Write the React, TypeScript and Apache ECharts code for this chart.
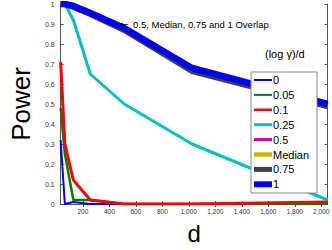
import React, { useEffect, useRef } from "react";
import * as echarts from "echarts";

const dValues = [32, 64, 128, 256, 512, 1024, 2048];
const seriesNames = ["0", "0.05", "0.1", "0.25", "0.5", "Median", "0.75", "1"];
const s0 = [0.32, 0.0, 0.01, 0.0, 0.0, 0.0, 0.0];
const s005 = [0.48, 0.25, 0.02, 0.02, 0.0, 0.0, 0.0];
const s01 = [0.71, 0.3, 0.12, 0.02, 0.0, 0.0, 0.01];
const s025 = [1.0, 1.0, 0.92, 0.65, 0.5, 0.3, 0.02];
const s05 = [1.0, 1.0, 0.985, 0.95, 0.87, 0.67, 0.485];
const sMedian = [1.0, 1.0, 0.995, 0.96, 0.875, 0.675, 0.49];
const s075 = [1.0, 1.0, 0.985, 0.95, 0.87, 0.665, 0.49];
const s1 = [1.0, 1.0, 0.99, 0.955, 0.88, 0.68, 0.5];
const xTicks = [200, 400, 600, 800, 1000, 1200, 1400, 1600, 1800, 2000];

const allValues = [s0, s005, s01, s025, s05, sMedian, s075, s1];
const colors = ["#0000ff", "#008000", "#ff0000", "#00bfbf", "#bf00bf", "#bfbf00", "#404040", "#0000ff"];
const widths = [2, 2.5, 3, 3, 4, 5, 6, 6.5];
const legendThick = [2, 2, 2.5, 3, 3, 4.5, 5, 6];

export default function App() {
  const ref = useRef<HTMLDivElement>(null);
  useEffect(() => {
    if (!ref.current) return;
    const chart = echarts.init(ref.current, null, { renderer: "svg" });
    const font = "'Liberation Sans', 'DejaVu Sans', sans-serif";
    const axisCommon = {
      axisLine: { show: true, lineStyle: { color: "#555", width: 1 } },
      axisTick: { show: true, inside: true, length: 3, lineStyle: { color: "#555" } },
      splitLine: { show: false },
    };
    const legX = 251;
    const legY = 72;
    const legW = 66;
    const legH = 121;
    const rowH = 14.9;
    const legendElems: any[] = [
      {
        type: "rect",
        shape: { x: legX, y: legY, width: legW, height: legH },
        style: { fill: "#ffffff", stroke: "#888", lineWidth: 1 },
        z: 100,
      },
    ];
    seriesNames.forEach((name, i) => {
      const cy = legY + 8 + i * rowH;
      legendElems.push({
        type: "line",
        shape: { x1: legX + 3, y1: cy, x2: legX + 21, y2: cy },
        style: { stroke: colors[i], lineWidth: legendThick[i] },
        z: 101,
      });
      legendElems.push({
        type: "text",
        x: legX + 22,
        y: cy,
        style: { text: name, fontSize: 11, fill: "#000", fontFamily: font, verticalAlign: "middle", align: "left" },
        z: 101,
      });
    });
    chart.setOption({
      animation: false,
      backgroundColor: "#ffffff",
      grid: { left: 45, right: 1, top: 4, bottom: 41 },
      xAxis: [
        {
          type: "value",
          min: 32,
          max: 2048,
          ...axisCommon,
          axisTick: { ...axisCommon.axisTick, customValues: xTicks },
          axisLabel: { customValues: xTicks, fontSize: 6.5, color: "#333", fontFamily: font, margin: 4 },
          name: "d",
          nameLocation: "middle",
          nameGap: 17,
          nameTextStyle: { fontSize: 24, color: "#000", fontFamily: font },
        },
        {
          type: "value",
          min: 32,
          max: 2048,
          position: "top",
          ...axisCommon,
          axisTick: { ...axisCommon.axisTick, customValues: xTicks },
          axisLabel: { show: false },
        },
      ],
      yAxis: [
        {
          type: "value",
          min: 0,
          max: 1,
          interval: 0.1,
          ...axisCommon,
          axisLabel: {
            fontSize: 7,
            color: "#333",
            fontFamily: font,
            margin: 6,
            formatter: (v: number) => String(Math.round(v * 10) / 10),
          },
          name: "Power",
          nameLocation: "middle",
          nameGap: 24,
          nameTextStyle: { fontSize: 26, color: "#000", fontFamily: font },
        },
        {
          type: "value",
          min: 0,
          max: 1,
          interval: 0.1,
          position: "right",
          ...axisCommon,
          axisLabel: { show: false },
        },
      ],
      graphic: [
        {
          type: "text",
          x: 120,
          y: 24,
          style: { text: "\u2190", fontSize: 10, fill: "#000", fontFamily: "'DejaVu Sans'", verticalAlign: "middle" },
          z: 100,
        },
        {
          type: "text",
          x: 133,
          y: 24,
          style: { text: "0.5, Median, 0.75 and 1 Overlap", fontSize: 9.5, fill: "#000", fontFamily: font, verticalAlign: "middle" },
          z: 100,
        },
        {
          type: "text",
          x: 265,
          y: 54,
          style: { text: "(log \u03b3)/d", fontSize: 11, fill: "#000", fontFamily: font, verticalAlign: "middle" },
          z: 100,
        },
        ...legendElems,
      ],
      series: seriesNames.map((name, i) => ({
        name,
        type: "line",
        symbol: "none",
        data: dValues.map((d, j) => [d, allValues[i][j]]),
        lineStyle: { color: colors[i], width: widths[i], join: "round" },
        itemStyle: { color: colors[i] },
        z: 2 + i,
        clip: true,
      })),
    });
    return () => chart.dispose();
  }, []);
  return <div ref={ref} style={{ width: 332, height: 250, position: "absolute", left: 0, top: 0 }} />;
}
